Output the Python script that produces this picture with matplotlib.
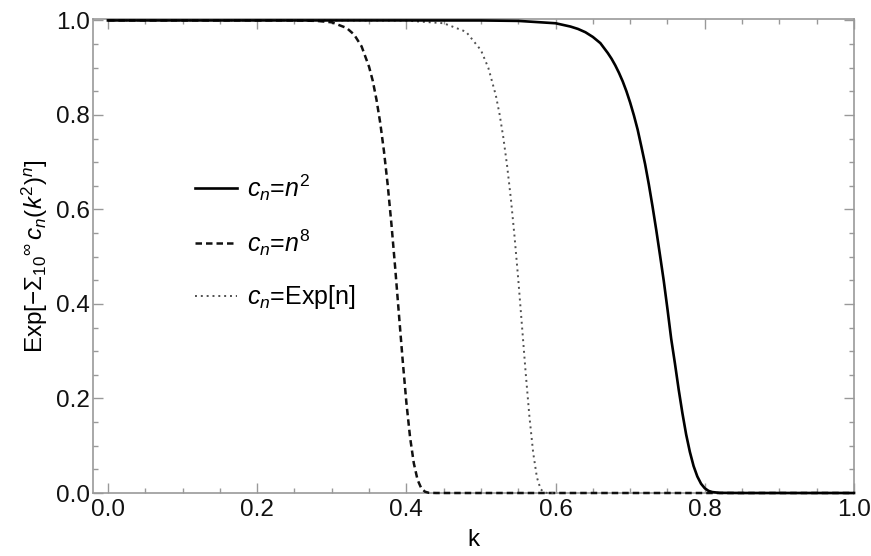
import matplotlib
matplotlib.use("Agg")
import matplotlib.pyplot as plt
from matplotlib.ticker import MultipleLocator

plt.rcParams['font.family'] = ['Liberation Sans', 'DejaVu Sans']
plt.rcParams['mathtext.fontset'] = 'custom'
plt.rcParams['mathtext.rm'] = 'Liberation Sans'
plt.rcParams['mathtext.it'] = 'Liberation Sans:italic'
plt.rcParams['mathtext.sf'] = 'Liberation Sans'

# c_n = n^2 (solid)
k_sq = [0.0, 0.1, 0.2, 0.3, 0.4, 0.5, 0.55, 0.6, 0.62, 0.63, 0.64, 0.65, 0.66, 0.67,
        0.675, 0.68, 0.685, 0.69, 0.695, 0.70, 0.705, 0.71, 0.715, 0.72, 0.725, 0.73,
        0.735, 0.74, 0.745, 0.75, 0.755, 0.76, 0.765, 0.77, 0.775, 0.78, 0.785, 0.79,
        0.795, 0.80, 0.805, 0.81, 0.82, 0.85, 0.9, 1.0]
v_sq = [1.0, 1.0, 1.0, 1.0, 1.0, 0.9999, 0.999, 0.994, 0.987, 0.982, 0.975, 0.965, 0.952, 0.931,
        0.919, 0.905, 0.889, 0.871, 0.850, 0.826, 0.799, 0.769, 0.733, 0.696, 0.653, 0.606,
        0.556, 0.503, 0.449, 0.389, 0.326, 0.274, 0.219, 0.169, 0.124, 0.087, 0.057, 0.035,
        0.0196, 0.010, 0.0045, 0.002, 0.0003, 0.0, 0.0, 0.0]

# c_n = n^8 (dashed)
k_n8 = [0.0, 0.1, 0.2, 0.25, 0.28, 0.30, 0.32, 0.33, 0.34, 0.35, 0.355, 0.36, 0.365,
        0.37, 0.375, 0.38, 0.385, 0.39, 0.395, 0.40, 0.405, 0.41, 0.415, 0.42, 0.425,
        0.43, 0.44, 0.5, 0.6, 0.7, 0.8, 0.9, 1.0]
v_n8 = [1.0, 1.0, 1.0, 1.0, 0.999, 0.996, 0.984, 0.970, 0.945, 0.902, 0.872, 0.832, 0.783,
        0.723, 0.652, 0.569, 0.477, 0.379, 0.282, 0.192, 0.1175, 0.063, 0.028, 0.010, 0.0027,
        0.0005, 0.0, 0.0, 0.0, 0.0, 0.0, 0.0, 0.0]

# c_n = Exp[n] (dotted)
k_ex = [0.0, 0.1, 0.2, 0.3, 0.4, 0.45, 0.48, 0.50, 0.51, 0.52, 0.525, 0.53, 0.535,
        0.54, 0.545, 0.55, 0.555, 0.56, 0.565, 0.57, 0.575, 0.58, 0.585, 0.59, 0.60]
v_ex = [1.0, 1.0, 1.0, 1.0, 0.9996, 0.994, 0.976, 0.937, 0.899, 0.841, 0.801, 0.752, 0.693,
        0.624, 0.543, 0.452, 0.353, 0.253, 0.161, 0.085, 0.033, 0.008, 0.001, 0.0, 0.0]

labels = [r'$c_n$=$n^2$', r'$c_n$=$n^8$', r'$c_n$=Exp[n]']

fig = plt.figure(figsize=(8.71, 5.56), dpi=100)
ax = fig.add_axes([93 / 871, 63 / 556, 761 / 871, 474 / 556])

ax.plot(k_sq, v_sq, color='black', lw=1.9, label=labels[0], zorder=5, clip_on=False)
ax.plot(k_n8, v_n8, color='#111111', lw=1.8, ls=(0, (2.6, 1.6)), label=labels[1],
        zorder=4, clip_on=False)
ax.plot(k_ex, v_ex, color='#505050', lw=1.4, ls=(0, (1, 2.0)), label=labels[2],
        zorder=4, clip_on=False)

ax.set_xlim(-0.02, 1.0)
ax.set_ylim(0, 1.003)

ax.xaxis.set_major_locator(MultipleLocator(0.2))
ax.xaxis.set_minor_locator(MultipleLocator(0.05))
ax.yaxis.set_major_locator(MultipleLocator(0.2))
ax.yaxis.set_minor_locator(MultipleLocator(0.05))
ax.xaxis.set_major_formatter(plt.FormatStrFormatter('%.1f'))
ax.yaxis.set_major_formatter(plt.FormatStrFormatter('%.1f'))

ax.tick_params(which='both', direction='in', top=True, right=True, color='#999999',
               labelsize=17.5, labelcolor='#111111')
ax.tick_params(which='major', length=7, width=1)
ax.tick_params(axis='y', which='major', pad=2.5)
ax.tick_params(axis='x', which='major', pad=4)
ax.tick_params(which='minor', length=3.5, width=1)
for s in ax.spines.values():
    s.set_color('#999999')
    s.set_linewidth(1.2)

ax.set_xlabel('k', fontsize=17.5, labelpad=6)
ax.set_ylabel(r'Exp[$-\Sigma_{10}{}^{\infty}\,c_n(k^2)^n$]', fontsize=17.5, labelpad=4)

ax.legend(loc='center left', bbox_to_anchor=(0.134, 0.53), frameon=False, fontsize=18,
          handlelength=1.7, handletextpad=0.4, labelspacing=1.0,
          borderpad=0, borderaxespad=0)

fig.savefig('out.png', dpi=100)
